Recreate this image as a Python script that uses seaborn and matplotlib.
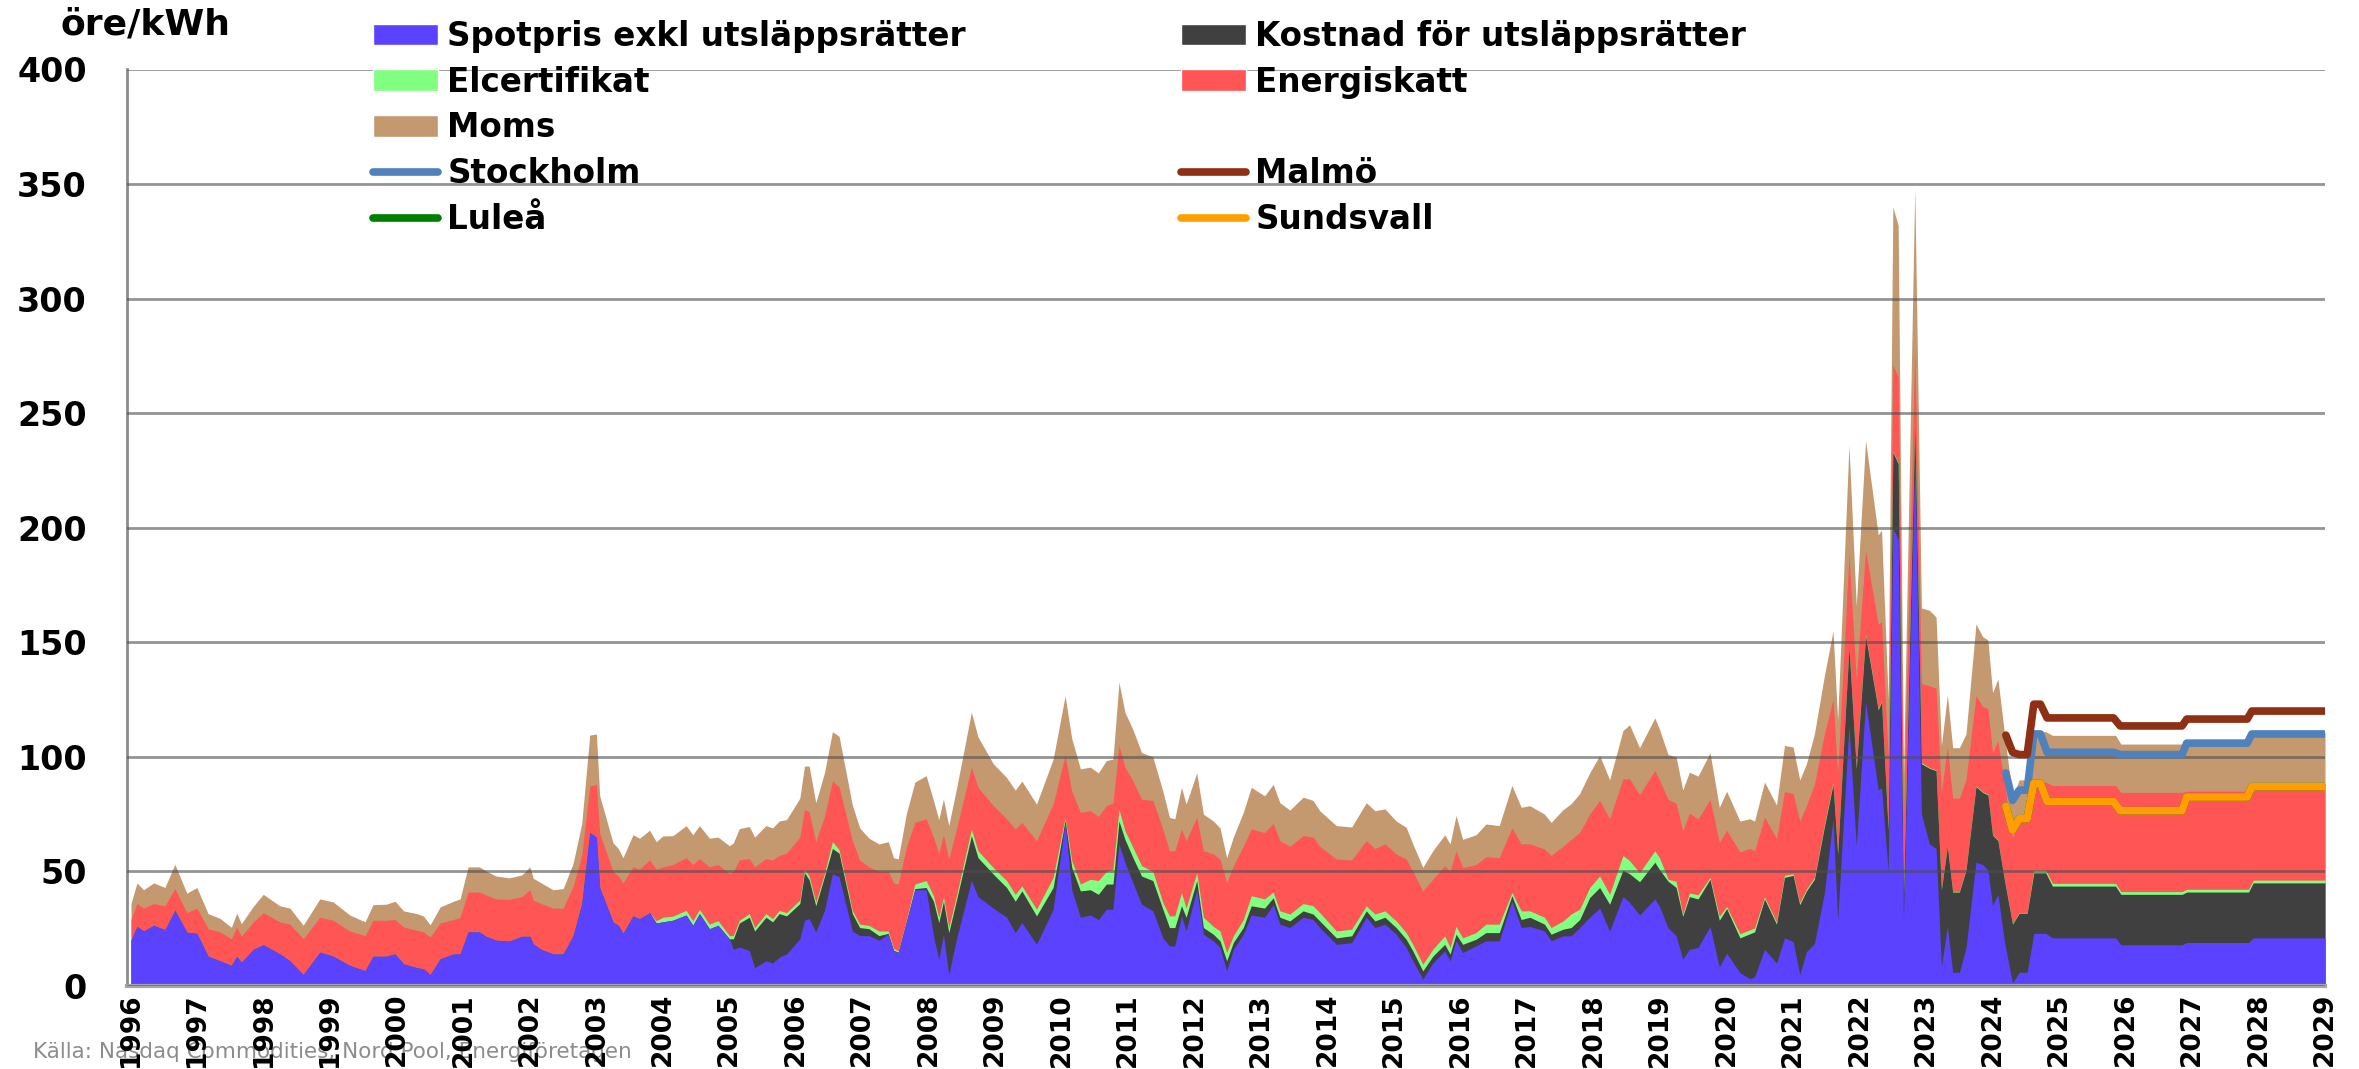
import matplotlib
matplotlib.use("Agg")
import matplotlib.pyplot as plt
from matplotlib.lines import Line2D
from matplotlib.patches import Patch
import seaborn as sns
import pandas as pd

# tidpunkter (decimalår)
tid = [
    1996.00, 1996.09, 1996.19, 1996.34, 1996.51, 1996.66, 1996.84, 1996.99,
    1997.16, 1997.34, 1997.51, 1997.59, 1997.66, 1997.84, 1997.99,
    1998.24, 1998.39, 1998.59, 1998.84,
    1999.04, 1999.29, 1999.52, 1999.64, 1999.84, 1999.97,
    2000.10, 2000.30, 2000.40, 2000.50, 2000.65, 2000.85, 2000.95,
    2001.07, 2001.24, 2001.34, 2001.49, 2001.69, 2001.88,
    2002.00, 2002.05, 2002.17, 2002.35, 2002.50, 2002.65, 2002.78, 2002.90,
    2003.00, 2003.05, 2003.25, 2003.33, 2003.40, 2003.55, 2003.65, 2003.80, 2003.90,
    2004.00, 2004.15, 2004.35, 2004.45, 2004.55, 2004.70, 2004.83,
    2005.00, 2005.06, 2005.15, 2005.30, 2005.38, 2005.55, 2005.65, 2005.75, 2005.86,
    2006.06, 2006.13, 2006.20, 2006.30, 2006.43, 2006.55, 2006.65, 2006.85, 2006.96,
    2007.10, 2007.25, 2007.39, 2007.47, 2007.54, 2007.66, 2007.79, 2007.96,
    2008.07, 2008.15, 2008.22, 2008.30, 2008.42, 2008.64, 2008.74, 2008.97,
    2009.17, 2009.30, 2009.40, 2009.62, 2009.87,
    2010.05, 2010.15, 2010.28, 2010.43, 2010.55, 2010.67, 2010.77, 2010.86, 2010.95,
    2011.07, 2011.20, 2011.37, 2011.52, 2011.62, 2011.70, 2011.80, 2011.87,
    2012.03, 2012.13, 2012.28, 2012.38, 2012.48, 2012.58, 2012.73, 2012.85,
    2013.05, 2013.18, 2013.28, 2013.43, 2013.63, 2013.78, 2013.88,
    2014.13, 2014.36, 2014.58, 2014.71, 2014.86,
    2015.03, 2015.18, 2015.28, 2015.43, 2015.58, 2015.76, 2015.84, 2015.93,
    2016.03, 2016.23, 2016.38, 2016.58, 2016.77, 2016.91,
    2017.04, 2017.26, 2017.36, 2017.54, 2017.66, 2017.79, 2017.94,
    2018.09, 2018.24, 2018.44, 2018.54, 2018.69, 2018.92, 2018.99,
    2019.12, 2019.24, 2019.34, 2019.44, 2019.57, 2019.75, 2019.89,
    2020.00, 2020.20, 2020.35, 2020.42, 2020.57, 2020.75, 2020.87,
    2021.00, 2021.10, 2021.20, 2021.32, 2021.47, 2021.60, 2021.67, 2021.84, 2021.95,
    2022.09, 2022.28, 2022.33, 2022.43, 2022.50, 2022.58, 2022.66, 2022.83, 2022.93,
    2023.05, 2023.15, 2023.23, 2023.32, 2023.40, 2023.50, 2023.60, 2023.75, 2023.85, 2023.93,
    2024.00, 2024.08, 2024.18, 2024.30, 2024.40, 2024.52, 2024.62, 2024.80, 2024.90,
    2025.85, 2025.93, 2026.85, 2026.92, 2027.85, 2027.92, 2029.00,
]

# öre/kWh per komponent
spotpris = [
    20, 26, 24, 26.5, 24.6, 33, 23.5, 23,
    13, 11, 9, 13, 10.4, 16, 18,
    14, 11, 5, 14.8,
    13, 9, 6.7, 13, 13, 14,
    9.7, 8, 7.5, 5, 11.9, 14, 14,
    23.6, 23.6, 21.7, 20, 19.6, 21.7,
    21.7, 18.4, 16, 14, 14, 22, 36, 67,
    65, 43, 28, 26.5, 23, 30.6, 29.4, 32, 27.5,
    28, 28.7, 31, 26.5, 31.6, 25, 26.5,
    20.6, 16, 17, 15.5, 8, 11, 10, 12.6, 14,
    20.6, 28.7, 29.4, 23.6, 33, 49, 47.7, 24, 22,
    22, 20, 22.6, 15.3, 14.6, 27.7, 42, 42,
    22, 11.7, 22.6, 5, 21, 46, 39, 34,
    30, 23.3, 27.7, 18.2, 33.5,
    71.4, 42, 30, 31, 29, 33.5, 33.5, 62, 54,
    45, 35.7, 32.8, 21, 17.5, 17.5, 30.6, 24,
    42, 22.6, 19.7, 16.8, 6.6, 16, 22.6, 31,
    30, 35.5, 27, 25.5, 30, 29, 25.5,
    18.2, 18.9, 30, 25.5, 27,
    22.6, 16.8, 11, 3, 10, 15.3, 11, 19.8,
    14.6, 17.5, 19.7, 19.7, 37, 25.5,
    26, 24, 19.7, 21.9, 21.9, 25.5, 30,
    34, 24, 39, 36.5, 31, 38, 34.7,
    25.3, 22, 11.7, 16, 16.8, 26, 8.3,
    14.3, 5.8, 3.2, 4, 16, 10, 21,
    19.4, 5, 15, 18.5, 40.6, 72.9, 28.7, 113.7, 61,
    124, 85.6, 86.5, 50, 200, 195, 30, 230, 75,
    62, 60, 8.4, 26, 6, 6, 16.6, 54, 53, 50.6,
    35, 40, 19, 1.4, 6, 6, 23, 23, 21,
    21, 18, 18, 19, 19, 21, 21,
]
utslappsratter = [
    0, 0, 0, 0, 0, 0, 0, 0,
    0, 0, 0, 0, 0, 0, 0,
    0, 0, 0, 0,
    0, 0, 0, 0, 0, 0,
    0, 0, 0, 0, 0, 0, 0,
    0, 0, 0, 0, 0, 0,
    0, 0, 0, 0, 0, 0, 0, 0,
    0, 0, 0, 0, 0, 0, 0, 0, 0,
    0, 0, 0, 0, 0, 0, 0,
    0, 4.6, 10.5, 14.5, 16, 19, 18, 19, 16.6,
    15.4, 20.8, 17, 11.4, 14.7, 11, 10.3, 7.6, 3.5,
    3, 2, 0.4, 0.3, 0.2, 0.2, 0.5, 1,
    15, 16, 14.4, 18.3, 17, 19.6, 17, 14.8,
    13, 13.7, 13.8, 12.4, 9.5,
    1, 9.7, 11.5, 11, 11, 11, 11, 10, 10,
    11, 12.3, 13.2, 12.5, 8, 8, 4.4, 6,
    4, 2.9, 2.9, 2.9, 4.4, 3, 2.9, 4,
    4, 3, 3, 2.9, 2.8, 2.4, 2.9,
    2.8, 3, 2.8, 2.9, 3,
    2.9, 3.6, 4.3, 3.6, 3, 2.9, 2.9, 2.8,
    3.6, 2.9, 3.6, 3.6, 2.4, 3.5,
    4, 3, 2.9, 2.9, 3.6, 3.5, 8.6,
    9, 11.7, 11.5, 12.5, 14.5, 16, 16.1,
    20.4, 21, 18.7, 23, 21.2, 20.6, 20.4,
    19.5, 15.2, 19.6, 19.6, 22, 17, 26.4,
    28.9, 30.5, 26.5, 28.1, 28.9, 15.1, 28.9, 34, 34,
    28.8, 34.9, 37.5, 18, 33, 33, 9, 15, 22,
    33, 34, 33.6, 35, 35, 35, 34, 33, 31.5, 32.8,
    30.8, 23.5, 27, 25.6, 25.8, 25.8, 26.4, 26.4, 22.6,
    22.6, 22, 22, 22, 22, 24, 24,
]
elcertifikat = [
    0, 0, 0, 0, 0, 0, 0, 0,
    0, 0, 0, 0, 0, 0, 0,
    0, 0, 0, 0,
    0, 0, 0, 0, 0, 0,
    0, 0, 0, 0, 0, 0, 0,
    0, 0, 0, 0, 0, 0,
    0, 0, 0, 0, 0, 0, 0, 0,
    0, 0, 0, 0, 0, 0, 0, 0, 1,
    2, 1.8, 2, 2, 1.9, 2, 2,
    1.4, 1.4, 1.2, 1.6, 1.5, 1.6, 1.4, 1.4, 1.4,
    1.5, 1.3, 1.6, 1.6, 1.3, 3, 1.5, 1.4, 1.5,
    1.4, 2, 1, 0.9, 0.5, 0.5, 2, 3,
    2.4, 2.3, 2, 2.2, 2, 2.9, 3, 2.9,
    3, 3, 2.2, 2.9, 4.4,
    1.2, 3, 3, 4.6, 6, 5.5, 6.5, 5, 3.8,
    4.5, 4.5, 4, 2.9, 5.1, 5.1, 5.8, 4,
    3.5, 4.5, 3.4, 4.3, 3.6, 2.9, 3.5, 4.4,
    4, 2.5, 2.8, 3, 3.2, 3.6, 3.6,
    3, 2.9, 2.2, 3, 2.8,
    2.9, 2.9, 2.9, 2.9, 3, 3.7, 2.9, 3.4,
    2.8, 2.9, 3.7, 3.7, 1.4, 3.8,
    2.8, 3, 2.9, 3.6, 5.9, 4.5, 4.4,
    5, 4.3, 6.5, 5.7, 4, 5, 5.2,
    0.9, 2.7, 0.9, 1.6, 1.8, 0.8, 1.7,
    0.9, 1.8, 1.7, 1.7, 0.9, 0.9, 0.9,
    0.7, 0.9, 0.8, 0.8, 0.8, 0.9, 0.4, 0.3, 0.5,
    0.8, 0.5, 0.5, 0.5, 0.5, 0.5, 0.3, 0.5, 0.5,
    0.3, 0.3, 0.3, 0.3, 0.3, 0.3, 0.4, 0.3, 0.3, 0.3,
    0.2, 0.3, 0.3, 0.3, 0.3, 0.3, 1.1, 1.1, 1.2,
    1.2, 1.2, 1.2, 1.2, 1.2, 1.2, 1.2,
]
energiskatt = [
    9, 10, 10, 9.5, 10.4, 9.5, 8.5, 11,
    12, 12.6, 11.6, 12.8, 11.3, 12, 14,
    14, 16, 15.6, 15.2,
    15.7, 15, 15.3, 15.7, 15.7, 15,
    16.1, 16.3, 16.1, 16.4, 15.6, 15, 16,
    17.4, 17.4, 18, 18, 18.2, 17.3,
    20.3, 19.1, 20, 20, 20, 21.5, 21, 20.3,
    23, 23.6, 22, 21.5, 22, 21.4, 21.6, 23, 22.5,
    22, 22.5, 23, 24.5, 22.1, 25, 24.5,
    27, 28, 26.3, 24, 26.5, 24, 25.6, 24, 26,
    27.5, 26.2, 28, 26.4, 25, 26.5, 27.5, 30.4, 28,
    25.6, 26, 26, 28.5, 29.2, 32, 27, 27,
    25.6, 28, 27, 29.9, 29, 27, 27.7, 27,
    27, 28.5, 27.7, 29.9, 32,
    27, 30.3, 31.3, 29.9, 28, 28.7, 29, 28, 27.7,
    29, 29, 31, 32.1, 28.4, 28.4, 27.7, 29.4,
    24.1, 29, 31.6, 31.4, 30.4, 30.6, 32, 29.1,
    29, 30, 30.6, 29.6, 29.6, 30, 29,
    31.4, 30.2, 28.4, 28.6, 29.2,
    29.2, 32.1, 31.8, 32, 30.6, 30.6, 33.2, 33,
    30.7, 29.7, 29.4, 29, 28.2, 29.2,
    29.2, 29.8, 31.5, 32.6, 32.6, 33.5, 32,
    33, 33, 33.4, 35.7, 34, 35, 33.9,
    34.8, 34, 36.5, 34.8, 33.1, 34, 32.3,
    33.3, 35.7, 35.5, 33.7, 34.8, 36.5, 36.5,
    35, 35.6, 36.5, 40.6, 39.7, 36.1, 35, 40, 38.5,
    36.4, 36.9, 34.5, 31.5, 37.5, 37.5, 35, 32.5, 34.5,
    35.7, 35.7, 42.2, 43.2, 40.7, 40.7, 39, 39.4, 37.2, 37.3,
    36, 43.2, 41.7, 37.7, 39.9, 39.9, 38.5, 38.5, 42.7,
    42.7, 43.3, 43.3, 42.8, 42.8, 42.3, 42.3,
]
moms = [
    7, 9, 8, 9, 8, 10.6, 8.5, 9,
    6.6, 5.9, 5, 6, 5.5, 6.8, 8,
    7, 7, 5.9, 8,
    8, 7, 6, 6.8, 7, 8,
    7, 7.3, 6.9, 5.3, 7, 8, 8,
    11, 11, 10.5, 10, 9.4, 9.5,
    10, 9.5, 9, 8, 8.5, 10, 14, 22.2,
    22, 16.4, 12.5, 12, 11, 14, 13.5, 13, 12,
    13.5, 12.6, 14, 13, 14.4, 12.5, 12,
    12.2, 12.5, 13.7, 14, 13, 14.4, 14, 15, 14.6,
    17, 19, 20, 17, 19, 21.5, 22, 15.6, 14,
    12.5, 12, 13, 11, 11, 14.5, 17.5, 18.8,
    16, 14.6, 15.6, 14.6, 17.7, 24, 22, 18.3,
    18, 17, 18, 16, 19.6,
    26, 23, 19, 19, 19, 19.7, 19, 27.6, 24,
    22.4, 20.4, 19, 16.5, 14.6, 14, 18.2, 16,
    19.4, 16, 14.4, 13.6, 11, 12.5, 14.8, 18.2,
    16, 17, 16.6, 15.8, 16.8, 16, 15.5,
    14.6, 14.4, 16.6, 16.5, 15.3,
    14.4, 13.9, 12, 10.3, 12.4, 13.5, 12, 15.4,
    12.3, 13, 14.3, 14, 18.5, 16,
    16.7, 15.2, 14.4, 16, 15.5, 17, 18,
    19.6, 17, 21.1, 23.6, 20.5, 23, 22.1,
    19.6, 20.3, 17.8, 17.9, 18.7, 20.4, 15.3,
    17, 13.5, 13, 13, 15.3, 14.6, 20.2,
    20.3, 17.9, 18.2, 22, 25.4, 30, 23, 48, 32,
    48, 39, 40, 25, 69, 66, 17.5, 70, 33,
    33, 31, 20.5, 22.5, 22, 22, 20, 31.3, 30.5, 30,
    26, 27, 22, 17, 18, 18, 22, 22, 21.9,
    21.9, 21.1, 21.1, 21.2, 21.2, 22.1, 22.1,
]

# totalpris per ort (prognos)
stad_tid = [2024.20, 2024.30, 2024.40, 2024.52, 2024.62, 2024.72, 2024.82,
            2025.82, 2025.92, 2026.85, 2026.92, 2027.83, 2027.90, 2029.00]
stockholm = [93, 81, 85.5, 85.5, 110, 110, 102, 102, 101, 101, 106, 106, 110, 110]
malmo = [109.5, 102, 101, 101, 123, 123, 117, 117, 113.5, 113.5, 116.5, 116.5, 120, 120]
lulea = [78.5, 68, 73, 73, 88.5, 88.5, 80.5, 80.5, 76.5, 76.5, 82.5, 82.5, 87, 87]
sundsvall = [78.5, 68, 73, 73, 88.5, 88.5, 80.5, 80.5, 76.5, 76.5, 82.5, 82.5, 87, 87]

ar = list(range(1996, 2030))

komponenter = ["Spotpris exkl utsläppsrätter", "Kostnad för utsläppsrätter",
               "Elcertifikat", "Energiskatt", "Moms"]
farger = ["#5B42FF", "#404040", "#80FF80", "#FF5555", "#C4996F"]
stader = ["Stockholm", "Malmö", "Luleå", "Sundsvall"]
stad_farger = {"Stockholm": "#4F81BD", "Malmö": "#8E3014",
               "Luleå": "#008000", "Sundsvall": "#FF9E00"}

sns.set_style("white")
plt.rcParams["font.family"] = ["DejaVu Sans"]
plt.rcParams["text.color"] = "black"

df = pd.DataFrame({"tid": tid, komponenter[0]: spotpris, komponenter[1]: utslappsratter,
                   komponenter[2]: elcertifikat, komponenter[3]: energiskatt,
                   komponenter[4]: moms})
kum = df[komponenter].cumsum(axis=1)

df_stad = pd.concat([
    pd.DataFrame({"tid": stad_tid, "pris": v, "stad": s})
    for s, v in zip(stader, [stockholm, malmo, lulea, sundsvall])
])

W, H = 2359, 1069
fig = plt.figure(figsize=(W / 100, H / 100), dpi=100)
ax = fig.add_axes([127 / W, 1 - 986 / H, (2325 - 127) / W, (986 - 69.5) / H])

# draw each cumulative layer from zero, largest first (no seams)
for namn, farg in reversed(list(zip(komponenter, farger))):
    ax.fill_between(df["tid"], 0, kum[namn], color=farg, linewidth=0, zorder=1)

sns.lineplot(data=df_stad, x="tid", y="pris", hue="stad", hue_order=stader,
             palette=stad_farger, linewidth=5.5, estimator=None, legend=False,
             solid_capstyle="round", solid_joinstyle="round", ax=ax, zorder=4)

ax.set_xlim(1995.94, 2029.0)
ax.set_ylim(0, 400)
ax.set_xticks(ar)
ax.set_xticklabels([str(a) for a in ar], rotation=90, fontweight="bold", fontsize=19)
ax.set_yticks(range(0, 401, 50))
ax.set_yticklabels([str(v) for v in range(0, 401, 50)], fontweight="bold", fontsize=24)
ax.set_xlabel("")
ax.set_ylabel("")
ax.tick_params(axis="x", length=0, pad=5, labelcolor="black")
ax.tick_params(axis="y", length=9, width=1.8, color="#8c8c8c", pad=20, labelcolor="black")

ax.set_axisbelow(False)
ax.yaxis.grid(True, color="#4d4d4d", alpha=0.6, linewidth=2)
ax.xaxis.grid(False)
for s in ["top", "right"]:
    ax.spines[s].set_visible(False)
ax.spines["left"].set_color("#8c8c8c")
ax.spines["left"].set_linewidth(2)
ax.spines["bottom"].set_color("#a6a6a6")
ax.spines["bottom"].set_linewidth(3)

fig.text(60 / W, 1 - 24 / H, "öre/kWh", fontsize=26, fontweight="bold",
         color="black", ha="left", va="center")
fig.text(33 / W, 1 - 1052 / H, "Källa: Nasdaq Commodities, Nord Pool, Energiföretagen",
         fontsize=15.5, color="#8c8c8c", ha="left", va="center", zorder=-1)

# legend in two columns
def linje(farg, namn):
    return Line2D([], [], color=farg, linewidth=5.5, solid_capstyle="round", label=namn)

kol1 = [Patch(facecolor=farger[0], label=komponenter[0]),
        Patch(facecolor=farger[2], label=komponenter[2]),
        Patch(facecolor=farger[4], label=komponenter[4]),
        linje(stad_farger["Stockholm"], "Stockholm"),
        linje(stad_farger["Luleå"], "Luleå")]
kol2 = [Patch(facecolor=farger[1], label=komponenter[1]),
        Patch(facecolor=farger[3], label=komponenter[3]),
        Patch(facecolor="none", edgecolor="none", label=" "),
        linje(stad_farger["Malmö"], "Malmö"),
        linje(stad_farger["Sundsvall"], "Sundsvall")]

for handles, x0 in [(kol1, 373 / W), (kol2, 1181 / W)]:
    fig.legend(handles=handles, loc="upper left", bbox_to_anchor=(x0, 1 - 20 / H),
               frameon=False, prop={"weight": "bold", "size": 23.5}, labelcolor="black",
               handlelength=2.0, handleheight=0.65, handletextpad=0.28,
               labelspacing=0.39, borderpad=0, borderaxespad=0)

fig.savefig("out.png", dpi=100)
